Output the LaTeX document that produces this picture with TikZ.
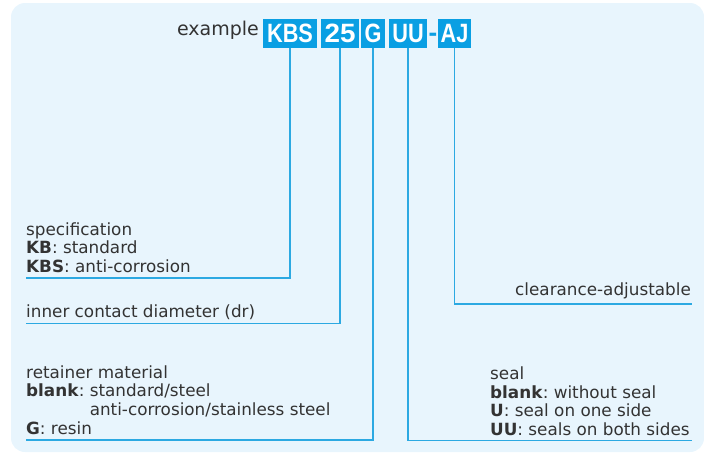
\documentclass[tikz,border=0pt]{standalone}
\usepackage{fontspec}
\setmainfont{DejaVu Sans}
\newfontfamily\codefont{Liberation Sans}
\frenchspacing

\definecolor{panel}{HTML}{E8F5FD}
\definecolor{codeblue}{HTML}{0A9FE3}
\definecolor{leadblue}{HTML}{2CA9E2}
\definecolor{ink}{HTML}{333333}

\tikzset{
  codebox/.style={fill=codeblue, text=white, inner sep=0pt, minimum height=29pt,
    font=\codefont\bfseries\fontsize{26.5}{26.5}\selectfont},
  lead/.style={draw=leadblue, line width=1.3pt},
  note/.style={inner sep=0pt, align=left, text=ink,
    font=\fontsize{16.8}{18.6}\selectfont},
}
\newcommand{\narrowtext}[2][0.82]{\scalebox{#1}[1]{#2}}

\begin{document}
\begin{tikzpicture}[x=1pt, y=-1pt]
        \useasboundingbox (0,0) rectangle (704,456);
        \fill[panel, rounded corners=14pt] (11,3) rectangle (704,452);

        % code boxes
        \node[anchor=base east, inner sep=0pt, text=ink,
          font=\fontsize{19}{19}\selectfont] (ex) at (259,35) {example};
        \node[codebox, minimum width=54pt] (kbs) at (290,33.5) {\narrowtext{KBS}};
        \node[codebox, minimum width=38pt] (n25) at (340,33.5) {\narrowtext[1.05]{25}};
        \node[codebox, minimum width=24pt] (g) at (373,33.5) {\narrowtext{G}};
        \node[codebox, minimum width=38pt] (uu) at (408,33.5) {\narrowtext{UU}};
        \node[anchor=base, inner sep=0pt, text=codeblue,
          font=\codefont\bfseries\fontsize{26}{26}\selectfont] (dash) at (433,41) {-};
        \node[codebox, minimum width=33pt] (aj) at (454.5,33.5) {\narrowtext{AJ}};

        % texts
        \node[note, anchor=south west] (spec) at (26,273)
          {specification\\\textbf{KB}: standard\\\textbf{KBS}: anti-corrosion};
        \node[note, anchor=south west] (inner) at (26,319.5)
          {inner contact diameter (dr)};
        \node[note, anchor=south west] (ret) at (26,434.5)
          {retainer material\\\textbf{blank}: standard/steel\\
           \phantom{\textbf{blank}: }anti-corrosion/stainless steel\\
           \textbf{G}: resin};
        \node[note, anchor=south west] (seal) at (490,436)
          {seal\\\textbf{blank}: without seal\\\textbf{U}: seal on one side\\
           \textbf{UU}: seals on both sides};
        \node[note, anchor=south east] (clr) at (691,299)
          {clearance-adjustable};

        % end points of the leaders
        \coordinate (specend) at (26,278);
        \coordinate (innerend) at (26,323.5);
        \coordinate (retend) at (26,440);
        \coordinate (sealend) at (692,440.5);
        \coordinate (clrend) at (692,304);

        % leaders
        \draw[lead] (kbs.south) |- (specend);
        \draw[lead] (n25.south) |- (innerend);
        \draw[lead] (g.south) |- (retend);
        \draw[lead] (uu.south) |- (sealend);
        \draw[lead] (aj.south) |- (clrend);
\end{tikzpicture}
\end{document}
